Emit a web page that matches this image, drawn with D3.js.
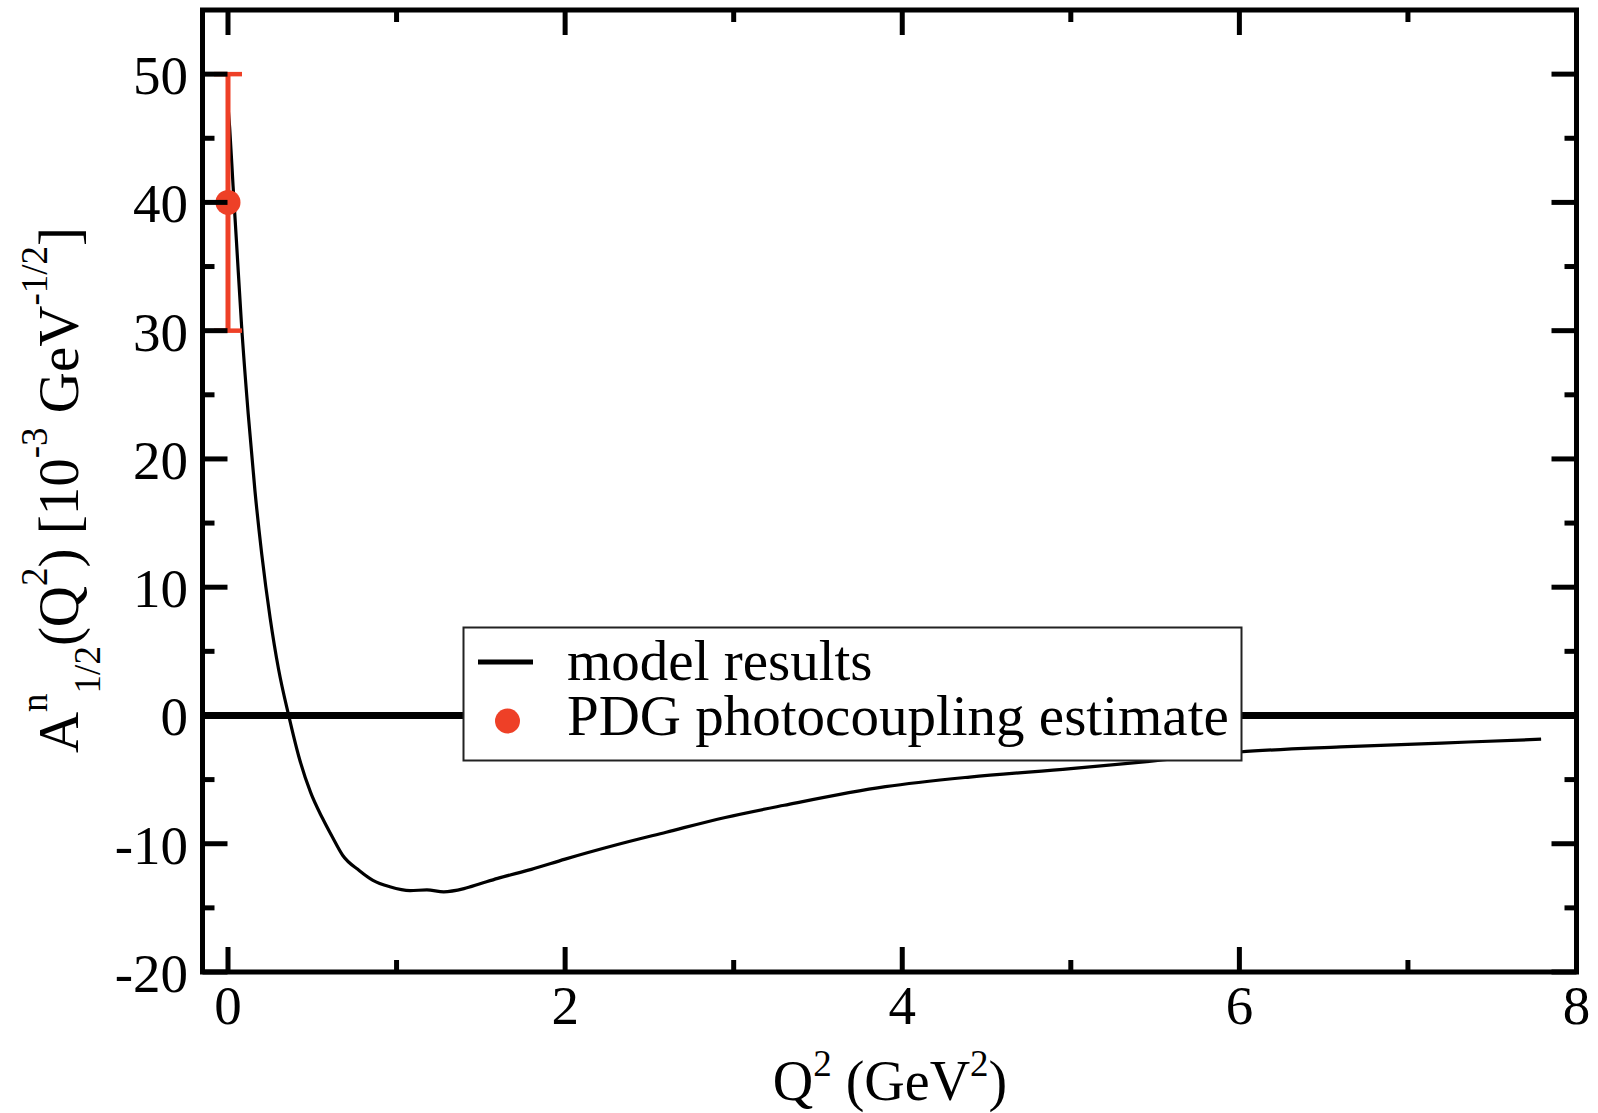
<!DOCTYPE html>
<html>
<head>
<meta charset="utf-8">
<script src="https://cdn.jsdelivr.net/npm/d3@7"></script>
<style>
  html, body { margin: 0; padding: 0; background: #fff; }
  svg text { font-family: "Liberation Serif", "Times New Roman", serif; fill: #000; }
</style>
</head>
<body>
<svg id="chart" width="1598" height="1113"></svg>
<script>
// ---- data ----
const modelQ2 = [0, 0.01, 0.03, 0.05, 0.08, 0.12, 0.16, 0.2, 0.25, 0.3, 0.36, 0.42, 0.49, 0.56, 0.62, 0.68, 0.78, 0.86, 0.96, 1.08, 1.18, 1.28, 1.4, 1.5, 1.6, 1.8, 2.0, 2.3, 2.6, 2.95, 3.3, 3.9, 4.4, 5.0, 5.45, 6.0, 6.6, 7.2, 7.79];
const modelA = [47.5, 45.8, 41.3, 37, 30.5, 23.5, 17.5, 12.6, 7.6, 3.6, 0, -3.2, -6.0, -8.0, -9.5, -10.9, -12.1, -12.85, -13.35, -13.65, -13.6, -13.75, -13.5, -13.1, -12.7, -12.0, -11.2, -10.1, -9.1, -7.95, -7.0, -5.55, -4.8, -4.15, -3.6, -2.85, -2.45, -2.15, -1.85];
const pdgQ2 = [0];
const pdgA = [40];
const pdgErr = [10];
const xTickMajor = [0, 2, 4, 6, 8];
const xTickMinor = [1, 3, 5, 7];
const yTickMajor = [-20, -10, 0, 10, 20, 30, 40, 50];
const yTickMinor = [-15, -5, 5, 15, 25, 35, 45];
const legendLabels = ["model results", "PDG photocoupling estimate"];

// ---- layout ----
const svg = d3.select("#chart");
const frameL = 202.5, frameR = 1576.5, frameT = 10, frameB = 972;
const x = d3.scaleLinear().domain([0, 8]).range([228, 1576.5]);
const y = d3.scaleLinear().domain([-20, 55]).range([972, 10]);
const red = "#ee4027";
const FS = 55, SFS = 37;

// zero line
svg.append("line")
  .attr("x1", frameL).attr("x2", frameR)
  .attr("y1", y(0)).attr("y2", y(0))
  .attr("stroke", "#000").attr("stroke-width", 7);

// model curve
const pts = modelQ2.map((q, i) => [q, modelA[i]]);
svg.append("path")
  .datum(pts)
  .attr("d", d3.line().x(d => x(d[0])).y(d => y(d[1])).curve(d3.curveMonotoneX))
  .attr("fill", "none").attr("stroke", "#000").attr("stroke-width", 3.2)
  .attr("stroke-linejoin", "round");

// legend box
const lg = svg.append("g");
lg.append("rect").attr("x", 463.5).attr("y", 627.5).attr("width", 778).attr("height", 133)
  .attr("fill", "#fff").attr("stroke", "#222").attr("stroke-width", 2);
lg.append("line").attr("x1", 478).attr("x2", 533).attr("y1", 662).attr("y2", 662)
  .attr("stroke", "#000").attr("stroke-width", 5);
lg.append("circle").attr("cx", 507.5).attr("cy", 721).attr("r", 12.5).attr("fill", red);
lg.selectAll("text.lt").data(legendLabels).enter().append("text")
  .attr("class", "lt")
  .attr("x", 567).attr("y", (d, i) => [680, 735][i])
  .attr("font-size", 57).text(d => d);

// PDG error bars + point
pdgQ2.forEach((q, i) => {
  const cx = x(q);
  svg.append("line").attr("x1", cx).attr("x2", cx)
    .attr("y1", y(pdgA[i] + pdgErr[i])).attr("y2", y(pdgA[i] - pdgErr[i]))
    .attr("stroke", red).attr("stroke-width", 5);
  [pdgA[i] + pdgErr[i], pdgA[i] - pdgErr[i]].forEach(v => {
    svg.append("line").attr("x1", cx - 14).attr("x2", cx + 14)
      .attr("y1", y(v)).attr("y2", y(v))
      .attr("stroke", red).attr("stroke-width", 4.5);
  });
  svg.append("circle").attr("cx", cx).attr("cy", y(pdgA[i])).attr("r", 12.5).attr("fill", red);
});

// frame and ticks
const ax = svg.append("g").attr("stroke", "#000").attr("stroke-width", 5);
ax.append("rect").attr("x", frameL).attr("y", frameT)
  .attr("width", frameR - frameL).attr("height", frameB - frameT)
  .attr("fill", "none").attr("stroke-linejoin", "miter");
const MAJ = 25, MIN = 12;
function xt(vals, len) {
  vals.forEach(v => {
    ax.append("line").attr("x1", x(v)).attr("x2", x(v)).attr("y1", frameB).attr("y2", frameB - len);
    ax.append("line").attr("x1", x(v)).attr("x2", x(v)).attr("y1", frameT).attr("y2", frameT + len);
  });
}
function yt(vals, len) {
  vals.forEach(v => {
    ax.append("line").attr("y1", y(v)).attr("y2", y(v)).attr("x1", frameL).attr("x2", frameL + len);
    ax.append("line").attr("y1", y(v)).attr("y2", y(v)).attr("x1", frameR).attr("x2", frameR - len);
  });
}
xt(xTickMajor, MAJ); xt(xTickMinor, MIN);
yt(yTickMajor, MAJ); yt(yTickMinor, MIN);

// tick labels
svg.selectAll("text.xl").data(xTickMajor).enter().append("text")
  .attr("class", "xl").attr("x", d => x(d)).attr("y", 1024)
  .attr("text-anchor", "middle").attr("font-size", FS).text(d => d);
svg.selectAll("text.yl").data(yTickMajor).enter().append("text")
  .attr("class", "yl").attr("x", 188).attr("y", d => y(d) + 20)
  .attr("text-anchor", "end").attr("font-size", FS).text(d => d);

// x axis title
const xtit = svg.append("text").attr("x", 890).attr("y", 1100)
  .attr("text-anchor", "middle").attr("font-size", 56);
xtit.append("tspan").text("Q");
xtit.append("tspan").attr("font-size", SFS).attr("dy", -24).text("2");
xtit.append("tspan").attr("dy", 24).text(" (GeV");
xtit.append("tspan").attr("font-size", SFS).attr("dy", -24).text("2");
xtit.append("tspan").attr("dy", 24).text(")");

// y axis title
const ytit = svg.append("text").attr("transform", "translate(78,490) rotate(-90)")
  .attr("text-anchor", "middle").attr("font-size", 57);
ytit.append("tspan").text("A");
ytit.append("tspan").attr("font-size", SFS).attr("dy", -31).text("n");
ytit.append("tspan").attr("font-size", SFS).attr("dy", 53).text("1/2");
ytit.append("tspan").attr("dy", -22).text("(Q");
ytit.append("tspan").attr("font-size", SFS).attr("dy", -31).text("2");
ytit.append("tspan").attr("dy", 31).text(") [10");
ytit.append("tspan").attr("font-size", SFS).attr("dy", -31).text("-3");
ytit.append("tspan").attr("dy", 31).text(" GeV");
ytit.append("tspan").attr("font-size", SFS).attr("dy", -31).text("-1/2");
ytit.append("tspan").attr("dy", 31).text("]");
</script>
</body>
</html>
